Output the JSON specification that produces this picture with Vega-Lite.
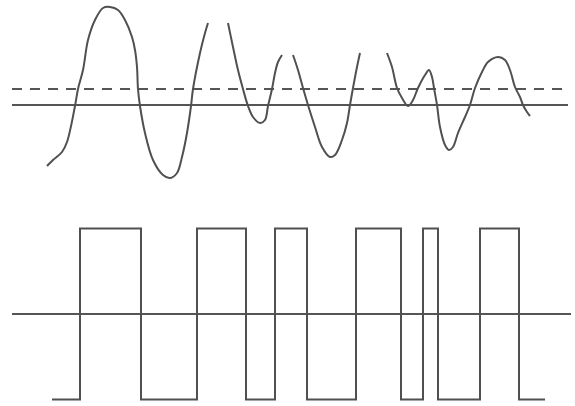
{
  "$schema": "https://vega.github.io/schema/vega-lite/v6.json",
  "width": 575,
  "height": 406,
  "padding": 0,
  "autosize": {"type": "fit", "contains": "padding"},
  "background": "white",
  "config": {"view": {"stroke": null}},
  "datasets": {
    "wave": [
      {"seg": 1, "t": 47, "v": -1.22}, {"seg": 1, "t": 53, "v": -1.10}, {"seg": 1, "t": 62, "v": -0.94},
      {"seg": 1, "t": 67, "v": -0.74}, {"seg": 1, "t": 75, "v": -0.02}, {"seg": 1, "t": 78, "v": 0.32},
      {"seg": 1, "t": 83, "v": 0.70}, {"seg": 1, "t": 88, "v": 1.30}, {"seg": 1, "t": 95, "v": 1.70},
      {"seg": 1, "t": 103, "v": 1.94}, {"seg": 1, "t": 110, "v": 1.96}, {"seg": 1, "t": 118, "v": 1.90},
      {"seg": 1, "t": 125, "v": 1.70}, {"seg": 1, "t": 132, "v": 1.36}, {"seg": 1, "t": 135, "v": 1.10},
      {"seg": 1, "t": 137, "v": 0.76}, {"seg": 1, "t": 138, "v": 0.32}, {"seg": 1, "t": 140, "v": -0.02},
      {"seg": 1, "t": 145, "v": -0.56}, {"seg": 1, "t": 153, "v": -1.10}, {"seg": 1, "t": 163, "v": -1.40},
      {"seg": 1, "t": 170, "v": -1.46}, {"seg": 1, "t": 177, "v": -1.36}, {"seg": 1, "t": 182, "v": -1.04},
      {"seg": 1, "t": 187, "v": -0.56}, {"seg": 1, "t": 191, "v": -0.02}, {"seg": 1, "t": 193, "v": 0.32},
      {"seg": 1, "t": 200, "v": 1.04}, {"seg": 1, "t": 205, "v": 1.44}, {"seg": 1, "t": 208, "v": 1.64},
      {"seg": 2, "t": 228, "v": 1.64}, {"seg": 2, "t": 233, "v": 1.16}, {"seg": 2, "t": 238, "v": 0.70},
      {"seg": 2, "t": 243, "v": 0.32}, {"seg": 2, "t": 248, "v": -0.02}, {"seg": 2, "t": 253, "v": -0.24},
      {"seg": 2, "t": 260, "v": -0.36}, {"seg": 2, "t": 265, "v": -0.30}, {"seg": 2, "t": 268, "v": -0.02},
      {"seg": 2, "t": 272, "v": 0.32}, {"seg": 2, "t": 275, "v": 0.64}, {"seg": 2, "t": 278, "v": 0.86},
      {"seg": 2, "t": 282, "v": 1.00},
      {"seg": 3, "t": 293, "v": 1.00}, {"seg": 3, "t": 298, "v": 0.70}, {"seg": 3, "t": 303, "v": 0.34},
      {"seg": 3, "t": 308, "v": 0.00}, {"seg": 3, "t": 315, "v": -0.44}, {"seg": 3, "t": 322, "v": -0.84},
      {"seg": 3, "t": 330, "v": -1.04}, {"seg": 3, "t": 335, "v": -1.00}, {"seg": 3, "t": 342, "v": -0.70},
      {"seg": 3, "t": 347, "v": -0.36}, {"seg": 3, "t": 350, "v": 0.00}, {"seg": 3, "t": 353, "v": 0.34},
      {"seg": 3, "t": 357, "v": 0.76}, {"seg": 3, "t": 360, "v": 1.04},
      {"seg": 4, "t": 387, "v": 1.04}, {"seg": 4, "t": 392, "v": 0.76}, {"seg": 4, "t": 397, "v": 0.34},
      {"seg": 4, "t": 402, "v": 0.14}, {"seg": 4, "t": 408, "v": -0.02}, {"seg": 4, "t": 413, "v": 0.10},
      {"seg": 4, "t": 418, "v": 0.34}, {"seg": 4, "t": 425, "v": 0.60}, {"seg": 4, "t": 429, "v": 0.70},
      {"seg": 4, "t": 432, "v": 0.56}, {"seg": 4, "t": 434, "v": 0.34}, {"seg": 4, "t": 437, "v": 0.00},
      {"seg": 4, "t": 440, "v": -0.44}, {"seg": 4, "t": 445, "v": -0.80}, {"seg": 4, "t": 449, "v": -0.90},
      {"seg": 4, "t": 453, "v": -0.84}, {"seg": 4, "t": 458, "v": -0.56}, {"seg": 4, "t": 465, "v": -0.24},
      {"seg": 4, "t": 470, "v": 0.00}, {"seg": 4, "t": 475, "v": 0.34}, {"seg": 4, "t": 482, "v": 0.66},
      {"seg": 4, "t": 488, "v": 0.86}, {"seg": 4, "t": 498, "v": 0.96}, {"seg": 4, "t": 505, "v": 0.90},
      {"seg": 4, "t": 510, "v": 0.70}, {"seg": 4, "t": 515, "v": 0.36}, {"seg": 4, "t": 520, "v": 0.16},
      {"seg": 4, "t": 523, "v": 0.00}, {"seg": 4, "t": 527, "v": -0.14}, {"seg": 4, "t": 530, "v": -0.22}
    ],
    "square": [
      {"t": 52, "out": -1}, {"t": 80, "out": 1}, {"t": 141, "out": -1}, {"t": 197, "out": 1},
      {"t": 246, "out": -1}, {"t": 275, "out": 1}, {"t": 307, "out": -1}, {"t": 356, "out": 1},
      {"t": 401, "out": -1}, {"t": 423, "out": 1}, {"t": 438, "out": -1}, {"t": 480, "out": 1},
      {"t": 519, "out": -1}, {"t": 545, "out": -1}
    ]
  },
  "resolve": {"scale": {"y": "independent"}},
  "layer": [
    {
      "layer": [
        {
          "data": {"values": [{"t0": 12, "t1": 568, "level": 0}]},
          "mark": {"type": "rule", "color": "#555555", "strokeWidth": 2},
          "encoding": {
            "x": {"field": "t0", "type": "quantitative", "scale": {"domain": [0, 575], "nice": false, "zero": false}, "axis": null},
            "x2": {"field": "t1"},
            "y": {"field": "level", "type": "quantitative", "scale": {"domain": [-6.02, 2.1], "nice": false, "zero": false}, "axis": null}
          }
        },
        {
          "data": {"values": [{"t0": 12, "t1": 568, "threshold": 0.32}]},
          "mark": {"type": "rule", "color": "#555555", "strokeWidth": 2, "strokeDash": [10, 8]},
          "encoding": {
            "x": {"field": "t0", "type": "quantitative"},
            "x2": {"field": "t1"},
            "y": {"field": "threshold", "type": "quantitative"}
          }
        },
        {
          "data": {"name": "wave"},
          "mark": {"type": "line", "color": "#505050", "strokeWidth": 2, "interpolate": "catmull-rom"},
          "encoding": {
            "x": {"field": "t", "type": "quantitative"},
            "y": {"field": "v", "type": "quantitative"},
            "detail": {"field": "seg", "type": "nominal"}
          }
        }
      ]
    },
    {
      "layer": [
        {
          "data": {"values": [{"t0": 12, "t1": 571, "level": 0}]},
          "mark": {"type": "rule", "color": "#555555", "strokeWidth": 2},
          "encoding": {
            "x": {"field": "t0", "type": "quantitative"},
            "x2": {"field": "t1"},
            "y": {"field": "level", "type": "quantitative", "scale": {"domain": [-1.076, 3.673], "nice": false, "zero": false}, "axis": null}
          }
        },
        {
          "data": {"name": "square"},
          "mark": {"type": "line", "color": "#505050", "strokeWidth": 2, "interpolate": "step-after"},
          "encoding": {
            "x": {"field": "t", "type": "quantitative"},
            "y": {"field": "out", "type": "quantitative"}
          }
        }
      ]
    }
  ]
}
